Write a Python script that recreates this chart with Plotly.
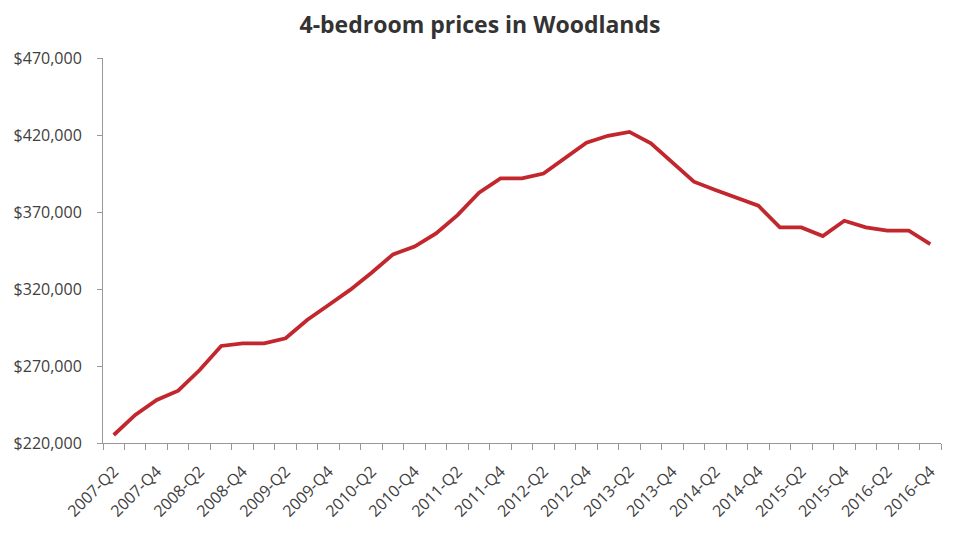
import plotly.graph_objects as go

quarters = [f"{y}-Q{q}" for y in range(2007, 2017) for q in range(1, 5)][1:]  # 2007-Q2 .. 2016-Q4
prices = [225200, 238200, 247900, 254000, 267400, 283000, 284700, 284700, 288000, 299900,
          309600, 319400, 330600, 342500, 347500, 356100, 368000, 382500, 391800, 391800,
          395000, 404900, 415000, 419500, 422000, 414600, 402000, 389700, 384300, 379300,
          374100, 360000, 360000, 354400, 364300, 360000, 357900, 357900, 349200]
tick_text = [q if q.endswith(("Q2", "Q4")) else "" for q in quarters]

fig = go.Figure()
fig.add_trace(go.Scatter(x=quarters, y=prices, mode="lines",
                         line=dict(color="#C1272D", width=3.8), hoverinfo="x+y"))

fig.update_layout(
    width=960, height=533,
    margin=dict(l=103, r=19, t=58, b=90),
    paper_bgcolor="white", plot_bgcolor="white",
    showlegend=False,
    title=dict(text="<b>4-bedroom prices in Woodlands</b>", x=0.5, xanchor="center",
               y=0.953, yanchor="middle",
               font=dict(family="Open Sans, DejaVu Sans, sans-serif", size=23, color="#333333")),
    font=dict(family="Open Sans, DejaVu Sans, sans-serif", color="#404040"),
)
fig.update_xaxes(
    type="category", tickmode="array", tickvals=quarters, ticktext=tick_text,
    range=[-0.5, len(quarters) - 0.5],
    tickson="boundaries", ticks="outside", ticklen=6, tickcolor="#999999",
    showline=True, linecolor="#999999", linewidth=1, showgrid=False, zeroline=False,
    tickangle=-45, tickfont=dict(size=16, color="#404040"), ticklabelstandoff=12,
)
fig.update_yaxes(
    range=[220000, 470000], dtick=50000, tick0=220000, tickprefix="$", tickformat=",",
    ticks="outside", ticklen=5, tickcolor="#999999",
    showline=True, linecolor="#999999", linewidth=1, showgrid=False, zeroline=False,
    tickfont=dict(size=16, color="#404040"), ticklabelstandoff=12,
)

fig.write_html("out.html")
